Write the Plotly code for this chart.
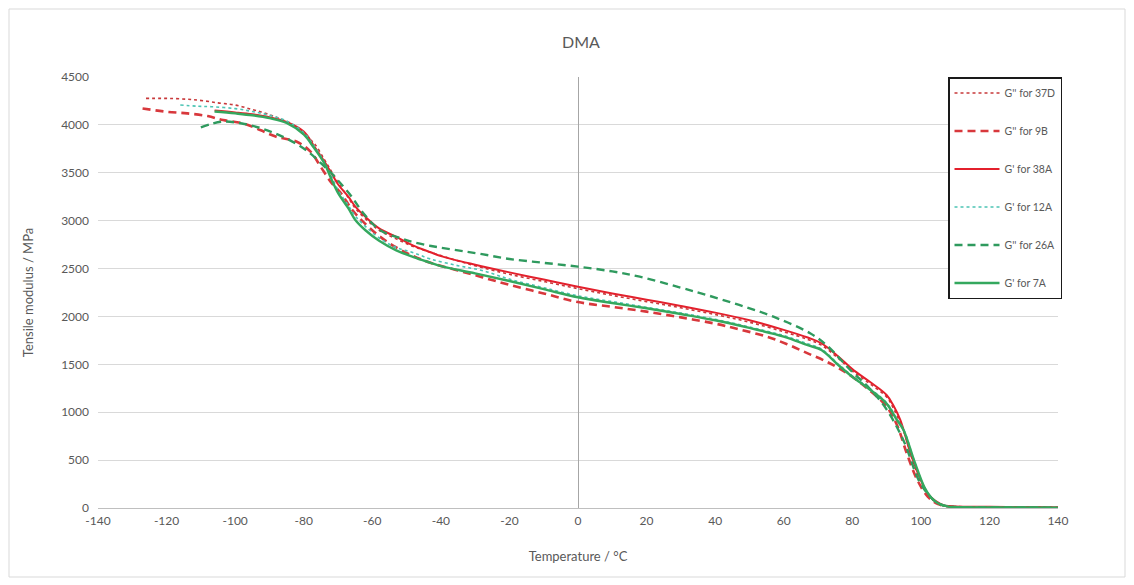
import plotly.graph_objects as go

# ---- data ----
t_37D = [-126, -118, -111, -105, -100, -95, -91, -87, -83, -80, -77, -74, -72, -70, -67, -65, -62, -58, -53, -48,
         -43, -35, -28, -20, -10, 0, 10, 20, 30, 40, 50, 60, 67, 71, 76, 80, 85, 90, 92, 95, 98, 100, 103, 106, 110,
         120, 130, 140]
m_37D = [4277, 4275, 4259, 4230, 4207, 4160, 4120, 4065, 4000, 3900, 3810, 3640, 3520, 3400, 3240, 3130, 3020, 2900,
         2810, 2730, 2670, 2580, 2510, 2440, 2365, 2290, 2220, 2155, 2090, 2020, 1940, 1840, 1760, 1700, 1560, 1430,
         1300, 1160, 1040, 800, 450, 280, 100, 30, 15, 10, 8, 7]

t_9B = [-127, -120, -114, -108, -103.5, -97.6, -92.7, -88, -82, -78, -75, -72, -69, -66, -63, -58, -53, -48, -43, -35,
        -28, -20, -10, 0, 10, 20, 30, 40, 47, 55, 61, 67, 72.5, 76, 80, 85, 90, 93, 96, 99, 102, 105, 110, 120, 130, 138]
m_9B = [4172, 4137, 4120, 4092, 4050, 4015, 3946, 3876, 3824, 3720, 3560, 3400, 3280, 3120, 3000, 2840, 2720, 2630,
        2560, 2480, 2410, 2330, 2240, 2150, 2100, 2050, 1990, 1925, 1865, 1790, 1710, 1615, 1528, 1460, 1370, 1230,
        1060, 870, 560, 290, 120, 40, 12, 8, 6, 5]

t_38A = [-106, -100, -95, -90, -85, -80, -77, -74, -72, -70, -67, -65, -62, -58, -53, -48, -43, -40, -30, -20,
         -10, 0, 10, 20, 30, 40, 50, 60, 67, 71, 76, 80, 85, 90, 92, 94, 97, 100, 102, 104, 107, 110, 120, 130, 140]
m_38A = [4150, 4130, 4110, 4080, 4030, 3930, 3780, 3620, 3500, 3380, 3250, 3150, 3040, 2920, 2830, 2740, 2670, 2630,
         2540, 2460, 2385, 2310, 2240, 2175, 2110, 2040, 1960, 1860, 1780, 1720, 1580, 1450, 1320, 1180, 1070, 920,
         570, 290, 150, 80, 25, 15, 12, 10, 8]

t_12A = [-116, -111, -107, -100, -95, -90, -85, -80, -77, -74, -72, -70, -67, -65, -62, -58, -53, -48, -43, -35,
         -28, -20, -10, 0, 10, 20, 30, 40, 50, 60, 67, 71, 76, 80, 85, 90, 93, 95, 98, 101, 103, 105, 108, 112, 120,
         130, 140]
m_12A = [4207, 4195, 4190, 4170, 4140, 4100, 4040, 3920, 3780, 3610, 3470, 3320, 3160, 3050, 2940, 2820, 2720, 2665,
         2600, 2530, 2480, 2390, 2300, 2215, 2155, 2095, 2035, 1970, 1890, 1800, 1715, 1660, 1500, 1380, 1250, 1100,
         930, 820, 500, 220, 110, 50, 15, 8, 6, 5, 4]

t_26A = [-110, -104, -98, -92, -87, -82, -78, -75, -72, -70, -66, -62.6, -57.7, -52, -48, -42, -35, -28, -20, -10,
         0, 10, 18, 30, 37.5, 47, 57, 67.7, 72.5, 80, 85, 90, 95, 100, 105, 110, 120, 130, 138]
m_26A = [3974, 4033, 4015, 3960, 3890, 3800, 3700, 3600, 3500, 3420, 3250, 3077, 2900, 2820, 2775, 2730, 2690, 2650,
         2600, 2560, 2520, 2470, 2415, 2300, 2224, 2120, 1997, 1825, 1700, 1420, 1250, 1030, 700, 250, 50, 10, 6, 5, 4]

t_7A = [-106, -100, -95, -90, -85, -80, -77, -74, -72, -70, -67, -65, -62, -58, -53, -48, -43, -40, -30, -20,
        -10, 0, 10, 20, 30, 40, 50, 60, 67, 71, 76, 80, 85, 90, 93, 95, 98, 101, 103, 105, 108, 112, 120, 130, 140]
m_7A = [4140, 4120, 4100, 4070, 4020, 3900, 3760, 3600, 3440, 3290, 3130, 3010, 2900, 2790, 2690, 2620, 2560, 2525,
        2450, 2370, 2285, 2200, 2140, 2085, 2025, 1960, 1880, 1790, 1700, 1650, 1490, 1370, 1240, 1090, 920, 810, 500,
        220, 110, 50, 14, 8, 6, 5, 4]

series_names = ["G'' for 37D", "G'' for 9B", "G' for 38A", "G' for 12A", "G'' for 26A", "G' for 7A"]
x_tick_vals = [-140, -120, -100, -80, -60, -40, -20, 0, 20, 40, 60, 80, 100, 120, 140]
x_tick_text = ["-140", "-120", "-100", "-80", "-60", "-40", "-20", "0", "20", "40", "60", "80", "100", "120", "140"]
y_tick_vals = [0, 500, 1000, 1500, 2000, 2500, 3000, 3500, 4000, 4500]

# ---- styles ----
styles = [
    dict(color="#c8383a", width=1.6, dash="dot"),
    dict(color="#d8383c", width=2.6, dash="8px,5px"),
    dict(color="#e3202c", width=2.0, dash="solid"),
    dict(color="#4cc4b4", width=1.6, dash="dot"),
    dict(color="#2f9a5e", width=2.4, dash="8px,5px"),
    dict(color="#34a85e", width=2.4, dash="solid"),
]
xs = [t_37D, t_9B, t_38A, t_12A, t_26A, t_7A]
ys = [m_37D, m_9B, m_38A, m_12A, m_26A, m_7A]

fig = go.Figure()
for i, (xv, yv, name, st) in enumerate(zip(xs, ys, series_names, styles)):
    fig.add_trace(go.Scatter(x=xv, y=yv, mode="lines", name=name, line=st,
                             legendgroup=f"g{i}", line_shape="spline"))

font_family = "Lato, Open Sans, sans-serif"
grey = "#595959"

fig.update_layout(
    width=1134, height=585,
    paper_bgcolor="white", plot_bgcolor="white",
    margin=dict(l=98, r=76, t=77, b=77),
    title=dict(text="DMA", x=(581) / 1134, xanchor="center", y=1 - 42 / 585, yanchor="middle",
               font=dict(family=font_family, size=16, color=grey)),
    font=dict(family=font_family, size=12, color=grey),
    showlegend=True,
    legend=dict(x=(948 - 98) / 960, y=1.0, xanchor="left", yanchor="top",
                bordercolor="#1a1a1a", borderwidth=1.5, bgcolor="white",
                font=dict(family=font_family, size=10.5, color=grey),
                tracegroupgap=19, itemwidth=45),
    xaxis=dict(range=[-140, 140], tickmode="array", tickvals=x_tick_vals, ticktext=x_tick_text,
               showgrid=False, zeroline=True, zerolinecolor="#a6a6a6", zerolinewidth=1,
               showline=False, ticks="", tickfont=dict(size=12, color=grey), ticklabelstandoff=4,
               title=dict(text="Temperature / °C", font=dict(size=13, color=grey), standoff=24)),
    yaxis=dict(range=[0, 4500], tickmode="array", tickvals=y_tick_vals,
               showgrid=True, gridcolor="#d9d9d9", gridwidth=1,
               zeroline=True, zerolinecolor="#bfbfbf", zerolinewidth=1,
               showline=False, ticks="", tickfont=dict(size=12, color=grey), ticklabelstandoff=8,
               title=dict(text="Tensile modulus / MPa", font=dict(size=13, color=grey), standoff=24)),
)

# outer chart border
fig.add_shape(type="rect", xref="paper", yref="paper",
              x0=(9 - 98) / 960, x1=(1125 - 98) / 960,
              y0=(508 - 577) / 431, y1=(508 - 9) / 431,
              line=dict(color="#d9d9d9", width=1), layer="below")

fig.write_html("out.html")
